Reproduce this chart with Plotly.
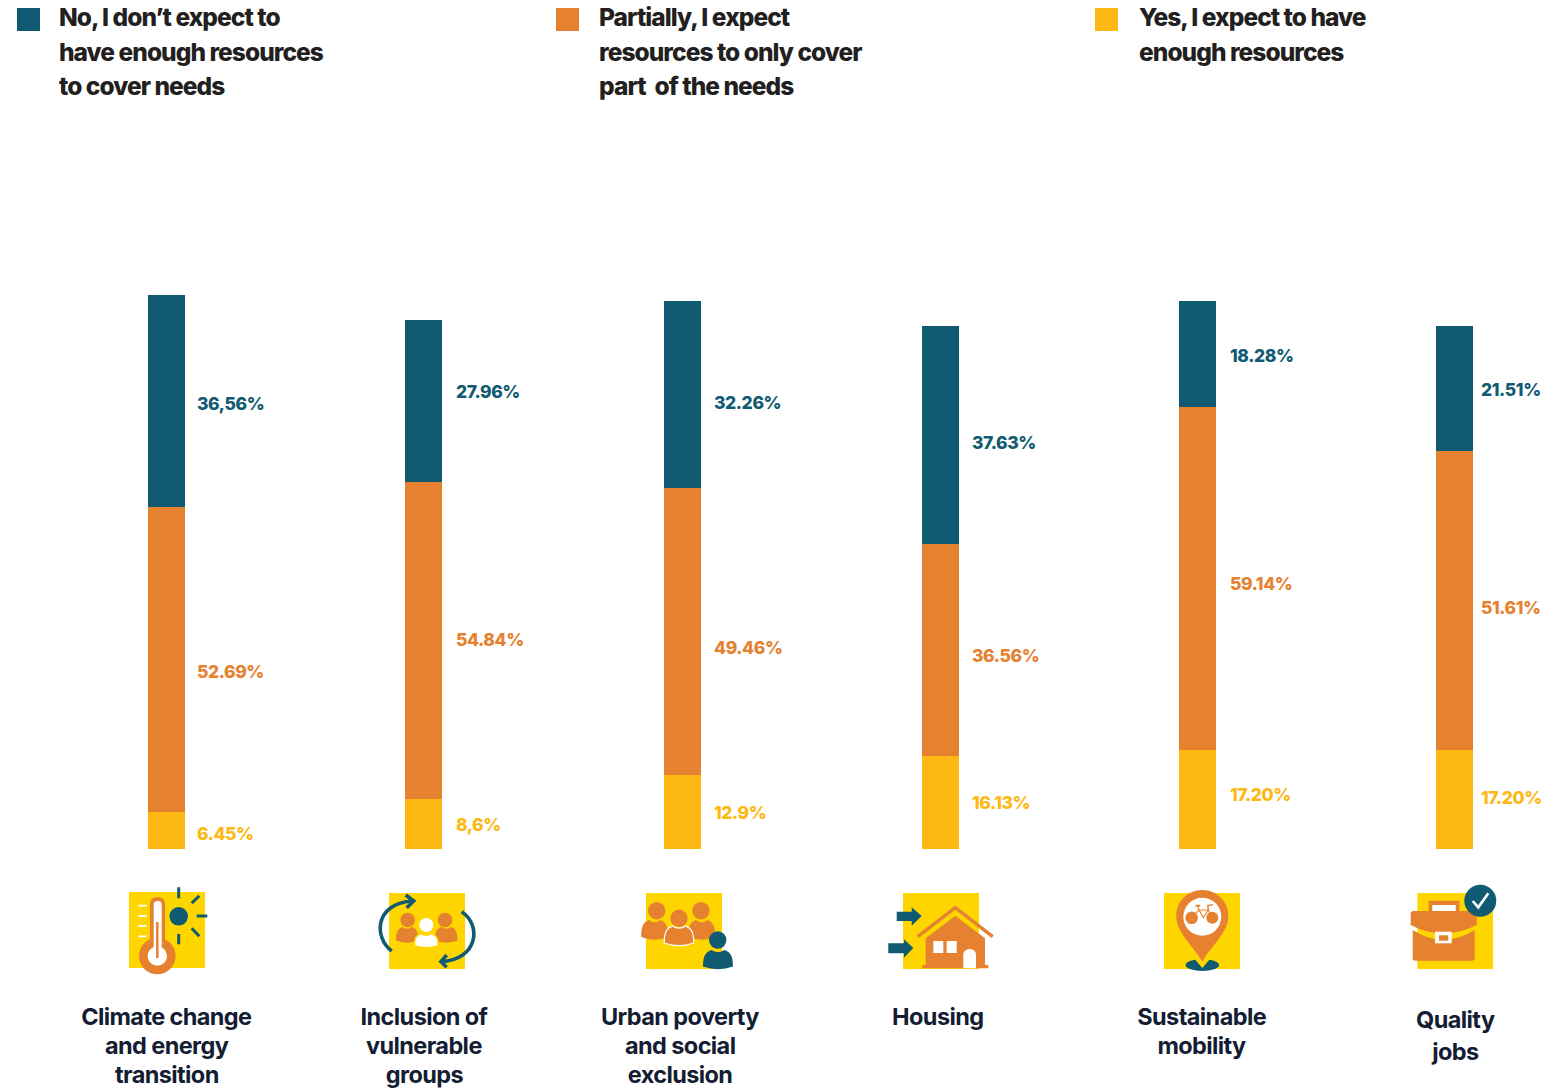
import re
import plotly.graph_objects as go

# ---------- data ----------
categories = ["Climate change", "Inclusion of", "Urban poverty", "Housing", "Sustainable", "Quality"]
no_values = [36.56, 27.96, 32.26, 37.63, 18.28, 21.51]
partial_values = [52.69, 54.84, 49.46, 36.56, 59.14, 51.61]
yes_values = [6.45, 8.6, 12.9, 16.13, 17.20, 17.20]
no_labels = ["36,56%", "27.96%", "32.26%", "37.63%", "18.28%", "21.51%"]
partial_labels = ["52.69%", "54.84%", "49.46%", "36.56%", "59.14%", "51.61%"]
yes_labels = ["6.45%", "8,6%", "12.9%", "16.13%", "17.20%", "17.20%"]
category_lines = [
    ["Climate change", "and energy", "transition"],
    ["Inclusion of", "vulnerable", "groups"],
    ["Urban poverty", "and social", "exclusion"],
    ["Housing"],
    ["Sustainable", "mobility"],
    ["Quality", "jobs"],
]
legend_lines = [
    ["No, I don’t expect to", "have enough resources", "to cover needs"],
    ["Partially, I expect", "resources to only cover", "part  of the needs"],
    ["Yes, I expect to have", "enough resources"],
]

# ---------- style and layout constants ----------
W, H = 1560, 1088
NAVY, ORANGE, AMBER, GOLD = "#115B72", "#E6812F", "#FDB813", "#FFD500"
INK, CAT_INK = "#231F20", "#141D33"
FONT = "Inter"
BASE_Y, PX_PER_PCT = 849.3, 5.795
X0, STEP, BAR_W = 166.7, 257.6, 37
bar_nudge = [0, -1, 1, 1, 0, 0]

label_left = [195, 454, 712, 970, 1227.5, 1479]
no_label_y = [403.5, 391.5, 402.5, 442.5, 355.5, 389.5]
partial_label_y = [671.5, 639.5, 647.5, 655.5, 583.5, 607.5]
yes_label_y = [833.5, 824.5, 812.5, 802.5, 794.5, 797.5]
cat_center = [166.5, 424.5, 680, 938, 1201, 1455]
legend_square_x = [17, 556, 1095]
legend_text_x = [57, 597, 1137]


def fx(x):
    return x / W


def fy(y):
    return 1 - y / H


def conv(path):
    """Pixel-space SVG path -> paper-space path."""
    out, i = [], 0
    for tok in re.findall(r"[A-Za-z]|-?\d+\.?\d*", path):
        if tok.isalpha():
            out.append(tok)
        else:
            v = float(tok)
            out.append(f"{fx(v):.5f}" if i % 2 == 0 else f"{fy(v):.5f}")
            i += 1
    return " ".join(out)


shapes = []


def P(path, fill=None, line=None, w=0):
    shapes.append(dict(type="path", xref="paper", yref="paper", path=conv(path),
                       fillcolor=fill if fill else "rgba(0,0,0,0)",
                       line=dict(color=line if line else "rgba(0,0,0,0)", width=w)))


def R(x0, y0, x1, y1, fill):
    shapes.append(dict(type="rect", xref="paper", yref="paper", x0=fx(x0), x1=fx(x1),
                       y0=fy(y1), y1=fy(y0), fillcolor=fill, line=dict(width=0)))


def C(cx, cy, rx, fill, ry=None, line=None, w=0):
    ry = rx if ry is None else ry
    shapes.append(dict(type="circle", xref="paper", yref="paper", x0=fx(cx - rx), x1=fx(cx + rx),
                       y0=fy(cy + ry), y1=fy(cy - ry), fillcolor=fill,
                       line=dict(color=line if line else "rgba(0,0,0,0)", width=w)))


def L(pts, color, w):
    P("M " + " L ".join(f"{x} {y}" for x, y in pts), None, color, w)


def body(cx, top, bw, h, fill, line=None, w=0):
    l, r = cx - bw / 2, cx + bw / 2
    P(f"M {l} {top+h*.85} C {l} {top+h*.3} {cx-bw*.42} {top+h*.12} {cx-bw*.22} {top} "
      f"Q {cx} {top+h*.22} {cx+bw*.22} {top} C {cx+bw*.42} {top+h*.12} {r} {top+h*.3} {r} {top+h*.85} "
      f"Q {cx} {top+h*1.12} {l} {top+h*.85} Z", fill, line, w)


# legend squares
for x, c in zip(legend_square_x, [NAVY, ORANGE, AMBER]):
    R(x, 8, x + 23, 31, c)

# icon 1: thermometer and sun
R(129, 892, 205, 968, GOLD)
for y in (905.7, 916, 926, 936.3):
    L([(138.3, y), (146.7, y)], "white", 1.8)
C(157.3, 956, 18.3, ORANGE)
P("M 150 942 L 150 904 Q 150 897 157.5 897 Q 165 897 165 904 L 165 942 Z", ORANGE)
P("M 153.7 950 L 153.7 905 Q 153.7 901 157.7 901 Q 161.7 901 161.7 905 L 161.7 950 Z", "white")
C(157.3, 956, 9.7, "white")
L([(157.3, 922), (157.3, 958)], ORANGE, 2.5)
C(178.7, 916.3, 9.3, NAVY)
for pts in ([(178.7, 887.3), (178.7, 898.3)], [(191.7, 903.3), (199.3, 895.7)], [(196.7, 916), (207.3, 916)],
            [(191.7, 928.3), (199.3, 936.3)], [(178.7, 934), (178.7, 944.3)]):
    L(pts, NAVY, 3)

# icon 2: inclusion
R(389, 893, 465, 969, GOLD)
C(407.7, 920, 7.3, ORANGE)
C(445, 920, 7.3, ORANGE)
body(407.2, 927, 22.5, 16, ORANGE)
body(446.2, 927, 22.5, 16, ORANGE)
C(426.3, 925, 7.8, "white", line=GOLD, w=1.5)
body(426.3, 933.5, 24, 14.5, "white", GOLD, 1.6)
P("M 391.7 951 C 374 938 374 904 411.7 901", None, NAVY, 3.6)
L([(405.7, 895), (413.7, 901), (406.7, 907.7)], NAVY, 3.6)
P("M 461.7 911.7 C 482 925 478 960 441 961.7", None, NAVY, 3.6)
L([(446.7, 955), (441, 961.7), (446.7, 967.3)], NAVY, 3.6)

# icon 3: urban poverty
R(646, 893, 722, 969, GOLD)
body(654.7, 920, 27, 20, ORANGE)
body(701.7, 920, 27, 20, ORANGE)
C(656.7, 910.7, 8.7, ORANGE)
C(701, 910.7, 8.7, ORANGE)
body(679, 926, 29.5, 20, ORANGE, "white", 1.2)
C(679, 918.3, 8.7, ORANGE)
body(718, 950, 30, 19.5, NAVY)
C(717.7, 940, 8.7, NAVY)

# icon 4: housing
R(903, 893, 979, 969, GOLD)
P("M 896.7 911.7 L 911.7 911.7 L 911.7 907.3 L 921.7 916 L 911.7 925.7 L 911.7 921 L 896.7 921 Z", NAVY)
P("M 888.3 943.3 L 904 943.3 L 904 939.3 L 913.3 948 L 904 957.7 L 904 953.3 L 888.3 953.3 Z", NAVY)
P("M 955.3 915.7 L 985 938.3 L 985 965 L 988.3 965 L 988.3 968.3 L 922.3 968.3 L 922.3 965 L 925.7 965 L 925.7 938.3 Z", ORANGE)
L([(917.7, 936.7), (955.3, 907.7), (992.7, 936.7)], ORANGE, 3.4)
R(933.3, 941, 943.3, 953, "white")
R(946.7, 941, 956.7, 953, "white")
P("M 963.3 968.3 L 963.3 955.5 Q 963.3 949 969.7 949 Q 976 949 976 955.5 L 976 968.3 Z", "white")

# icon 5: sustainable mobility
R(1164, 893, 1240, 969, GOLD)
C(1202.3, 965, 16.7, NAVY, ry=6)
P("M 1202.3 968 L 1192 956 L 1212.6 956 Z", GOLD)
P("M 1202.3 961.7 C 1193 945 1176.3 933 1176.3 916 C 1176.3 901 1188 890 1202.3 890 "
  "C 1216.6 890 1228.3 901 1228.3 916 C 1228.3 933 1211.6 945 1202.3 961.7 Z", ORANGE)
C(1202.3, 916.7, 19, "white")
C(1191.7, 917.7, 6.3, ORANGE)
C(1212.3, 917.7, 6, ORANGE)
L([(1191.7, 917.7), (1199, 910), (1208.3, 910), (1212.3, 917.7)], ORANGE, 1.2)
L([(1199, 910), (1203.3, 917.7), (1208.3, 910)], ORANGE, 1.2)
L([(1199, 910), (1197.5, 906)], ORANGE, 1.2)
L([(1195.5, 905.7), (1200.3, 905.7)], ORANGE, 1.8)
L([(1208.3, 910), (1207.8, 905.5), (1212.7, 904.7)], ORANGE, 1.4)

# icon 6: quality jobs
R(1417.3, 893, 1493, 969, GOLD)
R(1428.7, 900.7, 1459.3, 912, ORANGE)
R(1432.3, 905, 1455.7, 912, "white")
P("M 1410.7 914 Q 1410.7 911 1413.5 911 L 1474 911 Q 1476.7 911 1476.7 914 L 1476.7 925 "
  "Q 1443 942 1410.7 925 Z", ORANGE)
P("M 1412.7 930 Q 1443 950 1474.7 930 L 1474.7 958 Q 1474.7 960.7 1472 960.7 L 1415.4 960.7 "
  "Q 1412.7 960.7 1412.7 958 Z", ORANGE)
R(1435, 931.7, 1451.7, 943.3, "white")
R(1439, 935.3, 1448.3, 940.7, ORANGE)
C(1480.3, 900.7, 16, NAVY)
L([(1472.7, 901), (1478.3, 907.3), (1488.3, 893.3)], "white", 2.6)

# ---------- text ----------
annotations = []


def text(x, y, s, color, size, weight, anchor="left"):
    annotations.append(dict(xref="paper", yref="paper", x=fx(x), y=fy(y), text=s, showarrow=False,
                            xanchor=anchor, yanchor="middle", align=anchor,
                            font=dict(family=FONT, size=size, color=color, weight=weight)))


for lines, x in zip(legend_lines, legend_text_x):
    for line, y in zip(lines, (17, 52, 86)):
        text(x, y, line, INK, 24.5, 800)

for i in range(6):
    text(label_left[i], no_label_y[i], no_labels[i], NAVY, 17.5, 800)
    text(label_left[i], partial_label_y[i], partial_labels[i], ORANGE, 17.5, 800)
    text(label_left[i], yes_label_y[i], yes_labels[i], AMBER, 17.5, 800)

for i, lines in enumerate(category_lines):
    ys = (1019, 1051) if i == 5 else (1016, 1045, 1074)
    for line, y in zip(lines, ys):
        text(cat_center[i], y, line, CAT_INK, 23.5, 700, "center")

# ---------- figure ----------
fig = go.Figure()
for name, vals, col in (("Yes", yes_values, AMBER), ("Partially", partial_values, ORANGE), ("No", no_values, NAVY)):
    fig.add_trace(go.Bar(name=name, x=categories, y=vals, marker=dict(color=col, line=dict(width=0)),
                         width=BAR_W / STEP, offset=[(n - BAR_W / 2) / STEP for n in bar_nudge],
                         showlegend=False))

fig.update_layout(
    barmode="stack", width=W, height=H, margin=dict(l=0, r=0, t=0, b=0), autosize=False,
    paper_bgcolor="white", plot_bgcolor="white", shapes=shapes, annotations=annotations,
    xaxis=dict(type="category", categoryorder="array", categoryarray=categories,
               range=[-X0 / STEP, (W - X0) / STEP], visible=False, fixedrange=True),
    yaxis=dict(range=[(BASE_Y - H) / PX_PER_PCT, BASE_Y / PX_PER_PCT], visible=False, fixedrange=True),
)
post = """
document.body.style.margin='0';document.body.style.overflow='hidden';
document.querySelectorAll('.annotation-text').forEach(function(t){
  var s=parseFloat(t.style.fontSize);
  t.style.letterSpacing = s>24 ? '-0.95px' : (s>20 ? '-0.6px' : '-0.4px');
});
"""
fig.write_html("out.html", config=dict(displayModeBar=False), post_script=post)
